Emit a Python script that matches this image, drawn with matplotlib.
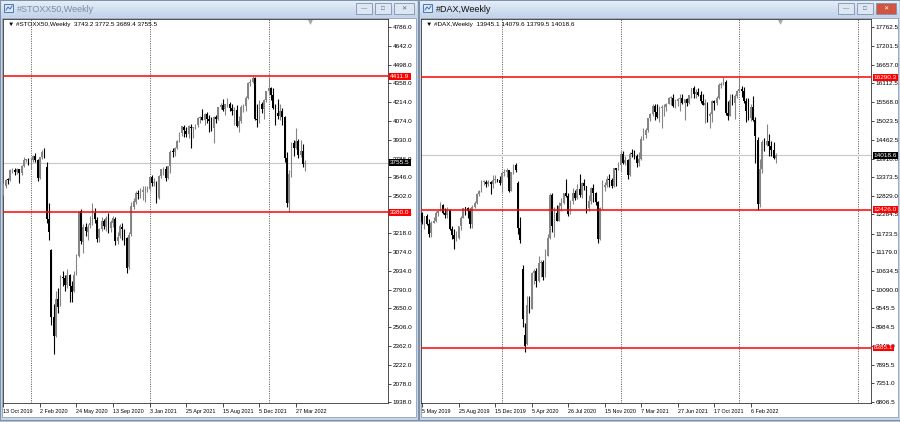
import numpy as np
import matplotlib.pyplot as plt
from matplotlib.patches import Rectangle
from matplotlib.colors import LinearSegmentedColormap
from matplotlib.transforms import blended_transform_factory

plt.rcParams['font.family'] = ['Liberation Sans', 'DejaVu Sans']

W, H = 900, 422

UP_COLOUR = "#858585"
DOWN_COLOUR = "#000000"
LEVEL_COLOUR = "#ff0000"

# ---------------- #STOXX50 weekly, 13 Oct 2019 .. 24 Apr 2022 ----------------
stoxx_open = [
    3520, 3579, 3625, 3623, 3700, 3701, 3681, 3704, 3680, 3731,
    3776, 3782, 3773, 3775, 3804, 3779, 3640, 3798, 3839, 3720,
    3329, 3090, 2580, 2440, 2720, 2680, 2890, 2880, 2830, 2900,
    2820, 2780, 2910, 3050, 3390, 3150, 3270, 3230, 3280, 3300,
    3370, 3320, 3180, 3250, 3310, 3270, 3330, 3260, 3300, 3330,
    3160, 3200, 3270, 3240, 3180, 2960, 3210, 3420, 3460, 3527,
    3518, 3530, 3545, 3545, 3553, 3645, 3600, 3600, 3490, 3656,
    3705, 3710, 3640, 3730, 3840, 3837, 3867, 3920, 3978, 4030,
    4000, 3975, 4030, 4017, 4026, 4040, 4093, 4100, 4080, 4123,
    4084, 4070, 4019, 4100, 4089, 4175, 4197, 4160, 4198, 4201,
    4170, 4145, 4158, 4036, 4073, 4182, 4188, 4250, 4363, 4370,
    4400, 4090, 4080, 4200, 4160, 4233, 4300, 4325, 4272, 4174,
    4136, 4107, 4149, 4100, 3790, 3450, 3666, 3903, 3869, 3918,
    3812, 3848, 3743.2]
stoxx_high = [
    3600, 3630, 3640, 3710, 3718, 3712, 3712, 3710, 3735, 3800,
    3786, 3790, 3790, 3815, 3830, 3785, 3800, 3850, 3868, 3760,
    3450, 3100, 2680, 2780, 2800, 2900, 2930, 2900, 2950, 2910,
    2860, 2930, 3060, 3390, 3400, 3290, 3300, 3290, 3350, 3450,
    3410, 3340, 3260, 3340, 3330, 3350, 3370, 3320, 3350, 3340,
    3230, 3290, 3300, 3250, 3190, 3230, 3460, 3490, 3540, 3545,
    3560, 3580, 3575, 3580, 3650, 3660, 3640, 3615, 3665, 3710,
    3720, 3730, 3730, 3850, 3870, 3875, 3930, 3990, 4030, 4040,
    4030, 4040, 4050, 4030, 4050, 4100, 4110, 4160, 4130, 4140,
    4120, 4100, 4110, 4120, 4180, 4210, 4240, 4205, 4245, 4220,
    4200, 4180, 4190, 4110, 4190, 4200, 4260, 4370, 4390, 4413,
    4410, 4200, 4230, 4220, 4240, 4300, 4405, 4330, 4320, 4200,
    4240, 4200, 4170, 4110, 3840, 3700, 3910, 3930, 4020, 3935,
    3930, 3900, 3772.5]
stoxx_low = [
    3510, 3560, 3595, 3620, 3680, 3660, 3670, 3600, 3665, 3720,
    3760, 3740, 3710, 3760, 3760, 3620, 3635, 3780, 3790, 3300,
    3170, 2520, 2302, 2430, 2610, 2670, 2820, 2780, 2800, 2700,
    2700, 2770, 2900, 3040, 3140, 3070, 3200, 3170, 3260, 3280,
    3300, 3150, 3150, 3240, 3250, 3240, 3220, 3230, 3270, 3130,
    3140, 3180, 3170, 3130, 2918, 2950, 3200, 3400, 3440, 3480,
    3490, 3470, 3460, 3530, 3540, 3580, 3580, 3450, 3480, 3640,
    3660, 3620, 3630, 3680, 3800, 3810, 3860, 3910, 3960, 3950,
    3950, 3940, 3870, 3940, 4010, 4030, 4060, 4080, 4040, 4060,
    3990, 4000, 3905, 4060, 4080, 4160, 4150, 4120, 4180, 4150,
    4120, 4040, 4030, 3990, 4060, 4140, 4150, 4240, 4340, 4360,
    4080, 4030, 4060, 4130, 4090, 4220, 4280, 4230, 4160, 4040,
    4090, 4080, 4040, 3760, 3420, 3380, 3650, 3810, 3860, 3790,
    3800, 3720, 3689.4]
stoxx_close = [
    3579, 3625, 3623, 3700, 3701, 3681, 3704, 3680, 3731, 3776,
    3782, 3773, 3775, 3804, 3779, 3640, 3798, 3839, 3800, 3329,
    3232, 2580, 2440, 2720, 2660, 2890, 2880, 2830, 2900, 2820,
    2770, 2905, 3050, 3380, 3160, 3270, 3236, 3270, 3300, 3370,
    3330, 3174, 3252, 3315, 3274, 3336, 3260, 3302, 3339, 3159,
    3194, 3274, 3249, 3180, 2958, 3205, 3424, 3467, 3527, 3518,
    3531, 3545, 3545, 3553, 3645, 3600, 3602, 3481, 3656, 3705,
    3713, 3636, 3730, 3837, 3837, 3867, 3919, 3978, 4032, 4007,
    3975, 4034, 4017, 4026, 4040, 4093, 4100, 4083, 4123, 4084,
    4069, 4019, 4100, 4089, 4175, 4197, 4159, 4198, 4201, 4170,
    4145, 4158, 4036, 4073, 4182, 4188, 4250, 4363, 4370, 4400,
    4089, 4080, 4200, 4161, 4233, 4298, 4325, 4272, 4174, 4136,
    4107, 4149, 4100, 3790, 3450, 3666, 3903, 3869, 3918, 3812,
    3848, 3743, 3755.5]
stoxx_dates = ["13 Oct 2019", "2 Feb 2020", "24 May 2020", "13 Sep 2020", "3 Jan 2021",
               "25 Apr 2021", "15 Aug 2021", "5 Dec 2021", "27 Mar 2022"]
stoxx_ticks = [4786.0, 4642.0, 4498.0, 4358.0, 4214.0, 4074.0, 3930.0, 3786.0, 3646.0, 3502.0,
               3362.0, 3218.0, 3074.0, 2934.0, 2790.0, 2650.0, 2506.0, 2362.0, 2222.0, 2078.0, 1938.0]
stoxx_levels = [4411.9, 3380.0]

# ---------------- #DAX weekly, 5 May 2019 .. 24 Apr 2022 ----------------
dax_open = [
    12340, 12050, 12240, 12010, 11730, 12045, 12096, 12340, 12400, 12568,
    12323, 12260, 12420, 11870, 11694, 11563, 11600, 11940, 12192, 12469,
    12468, 12381, 12013, 12512, 12634, 12895, 12961, 13229, 13242, 13163,
    13236, 13167, 13283, 13318, 13300, 13219, 13483, 13526, 13577, 12982,
    13513, 13745, 13200, 11890, 10700, 8750, 8500, 9630, 9530, 10565,
    10626, 10336, 10860, 10904, 10465, 11074, 11587, 12848, 11949, 12331,
    12089, 12528, 12633, 12920, 12838, 12313, 12674, 12901, 12764, 13033,
    12842, 13202, 13116, 12469, 12689, 13051, 12909, 12646, 11556, 12480,
    13077, 13137, 13336, 13298, 13114, 13630, 13587, 13719, 14049, 13787,
    13873, 13433, 14057, 14050, 13993, 13786, 13920, 14502, 14621, 14749,
    15107, 15234, 15460, 15280, 15136, 15400, 15417, 15438, 15520, 15693,
    15693, 15448, 15608, 15650, 15688, 15540, 15669, 15544, 15761, 15977,
    15808, 15852, 15781, 15610, 15490, 15531, 15156, 15206, 15587, 15543,
    15688, 16054, 16094, 16160, 15257, 15170, 15623, 15532, 15756, 15885,
    15948, 15883, 15603, 15318, 15100, 15425, 15042, 14470, 12600, 13628,
    14413, 14305, 14446, 14284, 14164, 13945.1]
dax_high = [
    12360, 12250, 12300, 12150, 12080, 12200, 12400, 12430, 12660, 12590,
    12480, 12490, 12440, 11960, 11850, 11800, 11960, 12250, 12470, 12490,
    12490, 12480, 12560, 12690, 12900, 12990, 13290, 13300, 13280, 13300,
    13250, 13430, 13430, 13330, 13420, 13500, 13600, 13640, 13580, 13530,
    13760, 13795, 13250, 12210, 10800, 9100, 9900, 9900, 10600, 10700,
    10720, 11060, 10960, 10950, 11280, 11700, 12900, 12900, 12500, 12560,
    12650, 12760, 12920, 13313, 12900, 12710, 13060, 13000, 13170, 13460,
    13240, 13310, 13120, 12850, 13100, 13170, 12930, 12670, 12500, 13300,
    13230, 13400, 13460, 13340, 13640, 13640, 13820, 14140, 14130, 14000,
    13900, 14100, 14200, 14170, 14060, 14100, 14570, 14800, 14810, 15110,
    15260, 15500, 15500, 15500, 15460, 15470, 15520, 15530, 15730, 15740,
    15800, 15650, 15700, 15810, 15800, 15670, 15700, 15790, 15980, 16030,
    15950, 15990, 15900, 15800, 15650, 15580, 15270, 15630, 15630, 15760,
    16120, 16150, 16290, 16220, 15600, 15800, 15810, 15800, 15930, 16285,
    16050, 16000, 15700, 15700, 15500, 15740, 15120, 14560, 13900, 14450,
    14530, 14925, 14640, 14420, 14400, 14079.6]
dax_low = [
    12000, 11870, 11990, 11620, 11630, 12030, 12060, 12230, 12390, 12290,
    12180, 12180, 11840, 11560, 11266, 11500, 11560, 11830, 12170, 12280,
    12180, 11900, 11880, 12470, 12600, 12820, 12950, 13150, 13100, 13130,
    12890, 13070, 13210, 13240, 13150, 12950, 13400, 13380, 12950, 12970,
    13470, 13530, 11720, 11450, 9000, 8255, 8460, 9400, 9520, 10250,
    10160, 10300, 10460, 10380, 10460, 11070, 11560, 11780, 11630, 12080,
    12080, 12400, 12600, 12800, 12250, 12300, 12600, 12700, 12750, 12810,
    12770, 13000, 12340, 12400, 12600, 12650, 12550, 11450, 11530, 12440,
    12960, 13100, 13100, 13070, 13100, 13120, 13580, 13550, 13770, 13720,
    13310, 13400, 13950, 13920, 13660, 13700, 13880, 14450, 14530, 14700,
    15010, 15150, 15050, 15100, 14980, 14820, 15170, 15300, 15500, 15480,
    15420, 15400, 15450, 15300, 15520, 15050, 15450, 15500, 15700, 15700,
    15700, 15740, 15540, 15470, 14950, 15000, 14820, 15000, 15350, 15480,
    15670, 15990, 16060, 15200, 15050, 15150, 15470, 15060, 15700, 15860,
    15720, 15550, 14990, 15050, 15030, 15030, 13800, 12426, 12500, 13500,
    14150, 14280, 14000, 14000, 13900, 13799.5]
dax_close = [
    12059, 12238, 12011, 11727, 12045, 12096, 12340, 12399, 12568, 12323,
    12260, 12419, 11872, 11694, 11563, 11612, 11939, 12192, 12469, 12468,
    12381, 12013, 12512, 12634, 12895, 12961, 13229, 13242, 13163, 13236,
    13167, 13283, 13318, 13300, 13219, 13483, 13526, 13577, 12982, 13513,
    13745, 13579, 11890, 11541, 9232, 8430, 9630, 9525, 10565, 10626,
    10336, 10862, 10904, 10465, 11074, 11587, 12848, 11949, 12331, 12089,
    12528, 12633, 12920, 12838, 12313, 12674, 12901, 12764, 13033, 12842,
    13202, 13116, 12469, 12689, 13051, 12909, 12646, 11556, 12480, 13077,
    13137, 13336, 13298, 13114, 13630, 13587, 13719, 14049, 13787, 13873,
    13433, 14057, 14050, 13993, 13786, 13920, 14502, 14621, 14749, 15107,
    15234, 15460, 15280, 15136, 15400, 15417, 15438, 15520, 15693, 15693,
    15448, 15608, 15650, 15688, 15540, 15669, 15544, 15761, 15977, 15808,
    15852, 15781, 15610, 15490, 15531, 15156, 15206, 15587, 15543, 15688,
    16054, 16094, 16160, 15257, 15170, 15623, 15532, 15756, 15885, 15948,
    15883, 15603, 15318, 15100, 15425, 15042, 14567, 12600, 13628, 14413,
    14305, 14446, 14284, 14164, 13945, 14018.6]
dax_dates = ["5 May 2019", "25 Aug 2019", "15 Dec 2019", "5 Apr 2020", "26 Jul 2020",
             "15 Nov 2020", "7 Mar 2021", "27 Jun 2021", "17 Oct 2021", "6 Feb 2022"]
dax_ticks = [17762.5, 17201.5, 16657.0, 16112.5, 15568.0, 15023.5, 14462.5, 13918.0, 13373.5, 12829.0,
             12284.5, 11723.5, 11179.0, 10634.5, 10090.0, 9545.5, 8984.5, 8440.0, 7895.5, 7351.0, 6806.5]
dax_levels = [16290.3, 12426.0, 8385.1]


fig = plt.figure(figsize=(W / 100, H / 100), dpi=100, facecolor="#b4c5da")

# background axes in pixel coordinates for the window chrome
bg = fig.add_axes([0, 0, 1, 1])
bg.axis("off")
title_cmap = LinearSegmentedColormap.from_list("title", ["#e4edf8", "#c3d4ea"])


def px_rect(x0, y0, x1, y1):
    return [x0 / W, 1 - y1 / H, (x1 - x0) / W, (y1 - y0) / H]


def draw_window(x0, x1, title, active):
    bg.add_patch(Rectangle((x0, 0), x1 - x0, 420, fc="#c9d7e9", ec="#7f91a8", lw=0.8, zorder=1))
    grad = np.linspace(0, 1, 32).reshape(-1, 1)
    bg.imshow(grad, cmap=title_cmap, extent=(x0 + 1, x1 - 1, 17, 1), aspect="auto", zorder=2)
    # client area
    bg.add_patch(Rectangle((x0 + 2, 18), x1 - x0 - 4, 399, fc="white", ec="#8e9fb5", lw=0.6, zorder=3))
    # small chart icon
    bg.add_patch(Rectangle((x0 + 4, 4), 9, 8, fc="#dce8f6", ec="#4d78b8", lw=0.7, zorder=4))
    bg.plot([x0 + 6, x0 + 8, x0 + 10, x0 + 12], [10, 7, 9, 6], color="#3a6fc0", lw=0.7, zorder=5)
    bg.text(x0 + 17, 9, title, fontsize=6.5, va="center", ha="left",
            color="#111111" if active else "#7d8b9c", zorder=5)
    # min / restore / close buttons
    btn = [(x1 - 62, x1 - 46), (x1 - 43, x1 - 27), (x1 - 24, x1 - 4)]
    glyphs = ["\u2014", "\u25a1", "\u2715"]
    for k, ((bx0, bx1), g) in enumerate(zip(btn, glyphs)):
        close = (k == 2)
        fc = "#d0543f" if (close and active) else "#dde7f3"
        bg.add_patch(Rectangle((bx0, 3), bx1 - bx0, 11, fc=fc, ec="#7f93ad", lw=0.6, zorder=4))
        bg.text((bx0 + bx1) / 2, 8.7, g, fontsize=4.5, ha="center", va="center",
                color="white" if (close and active) else "#56687f", zorder=5)


draw_window(0, 418, "#STOXX50,Weekly", False)
draw_window(419, 900, "#DAX,Weekly", True)
bg.set_xlim(0, W)
bg.set_ylim(H, 0)


def draw_chart(rect, o, h, l, c, ylim, xlim, yticks, dates, grid_weeks, levels, header, shift_week):
    ax = fig.add_axes(px_rect(*rect))
    o, h, l, c = (np.asarray(v, dtype=float) for v in (o, h, l, c))
    x = np.arange(len(c))
    up = c >= o
    cols = np.where(up, UP_COLOUR, DOWN_COLOUR)

    ax.vlines(x, l, h, colors=cols, lw=0.8, zorder=3)
    body = np.maximum(np.abs(c - o), (ylim[1] - ylim[0]) * 0.002)
    ax.bar(x, body, bottom=np.minimum(o, c), width=0.74, color=cols, lw=0, zorder=3)

    # vertical dotted separators
    for g in grid_weeks:
        ax.axvline(g, color="#3c3c3c", lw=0.6, ls=(0, (1.2, 1.6)), zorder=1)

    ytrans = blended_transform_factory(ax.transAxes, ax.transData)
    # current price line + label
    ax.axhline(c[-1], color="#c8c8c8", lw=0.8, zorder=1)
    for v in levels:
        ax.axhline(v, color=LEVEL_COLOUR, lw=1.1, zorder=4)
        ax.text(1.006, v, f"{v:.1f}", transform=ytrans, fontsize=4.6, color="white",
                va="center", ha="left", clip_on=False, zorder=6,
                bbox=dict(boxstyle="square,pad=0.15", fc=LEVEL_COLOUR, ec="none"))
    ax.text(1.006, c[-1], f"{c[-1]:.1f}", transform=ytrans, fontsize=4.6, color="white",
            va="center", ha="left", clip_on=False, zorder=6,
            bbox=dict(boxstyle="square,pad=0.15", fc="black", ec="none"))

    ax.set_xlim(*xlim)
    ax.set_ylim(*ylim)

    ax.yaxis.tick_right()
    ax.set_yticks(yticks)
    ax.set_yticklabels([f"{t:.1f}" for t in yticks])
    ax.tick_params(axis="y", length=2, width=0.5, pad=1.5, labelsize=4.6, colors="black")

    ax.set_xticks(np.arange(len(dates)) * 16)
    ax.set_xticklabels(dates)
    ax.tick_params(axis="x", length=3, width=0.5, pad=1.5, labelsize=3.9)
    for lab in ax.get_xticklabels():
        lab.set_ha("left")

    for sp in ax.spines.values():
        sp.set_color("#333333")
        sp.set_linewidth(0.6)

    ax.text(0.012, 0.992, "\u25bc " + header, transform=ax.transAxes, fontsize=4.6,
            va="top", ha="left", color="black", zorder=7)
    xtrans = blended_transform_factory(ax.transData, ax.transAxes)
    ax.plot([shift_week], [0.992], marker="v", ms=3.5, color="#a6a6a6", mec="none",
            transform=xtrans, clip_on=False, zorder=7)
    ax.set_facecolor("white")
    return ax


draw_chart((3, 19, 388, 403), stoxx_open, stoxx_high, stoxx_low, stoxx_close,
           ylim=(1930, 4847), xlim=(-0.1, 168.2), yticks=stoxx_ticks, dates=stoxx_dates,
           grid_weeks=np.arange(12, 169, 52), levels=stoxx_levels,
           header="#STOXX50,Weekly  3743.2 3772.5 3689.4 3755.5", shift_week=134)

draw_chart((421, 19, 871, 403), dax_open, dax_high, dax_low, dax_close,
           ylim=(6777, 17996), xlim=(-0.5, 196.7), yticks=dax_ticks, dates=dax_dates,
           grid_weeks=np.arange(35, 192, 52), levels=dax_levels,
           header="#DAX,Weekly  13945.1 14079.6 13799.5 14018.6", shift_week=157)

fig.savefig("out.png", dpi=100, facecolor=fig.get_facecolor())
